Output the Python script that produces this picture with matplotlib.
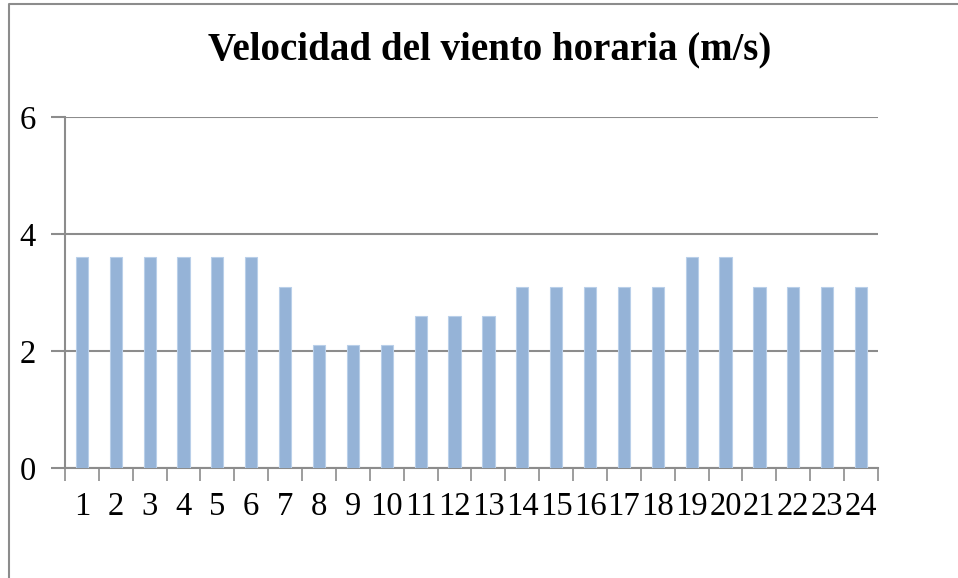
import numpy as np
import matplotlib.pyplot as plt
from matplotlib.lines import Line2D

# hourly wind speed (m/s)
horas = [str(h) for h in range(1, 25)]
velocidad = [3.6, 3.6, 3.6, 3.6, 3.6, 3.6, 3.1, 2.1, 2.1, 2.1, 2.6, 2.6,
             2.6, 3.1, 3.1, 3.1, 3.1, 3.1, 3.6, 3.6, 3.1, 3.1, 3.1, 3.1]

plt.rcParams['font.family'] = ['Liberation Serif', 'DejaVu Serif']

fig = plt.figure(figsize=(9.58, 5.78), dpi=100)
ax = fig.add_axes([0.0678, 0.1903, 0.8487, 0.6073])

x = np.arange(len(horas))
ax.bar(x, velocidad, width=0.36, color='#95b3d7', edgecolor='#b9cfe9',
       linewidth=0.8, zorder=3)

ax.set_xlim(-0.5, len(horas) - 0.5)
ax.set_ylim(0, 6)
ax.set_yticks([0, 2, 4, 6])
ax.yaxis.grid(True, color='#8c8c8c', linewidth=1.5, zorder=0)

# category labels centred, tick marks on the boundaries
ax.set_xticks(x)
ax.set_xticklabels(horas)
ax.set_xticks(np.arange(-0.5, len(horas)), minor=True)
ax.tick_params(axis='x', which='major', length=0, pad=17, labelsize=23.5)
ax.tick_params(axis='x', which='minor', length=9, width=1.2, color='#8c8c8c',
               direction='out')
ax.tick_params(axis='y', length=10, width=1.5, color='#8c8c8c', pad=11,
               labelsize=23.5)

for s in ['top', 'right']:
    ax.spines[s].set_visible(False)
for s in ['left', 'bottom']:
    ax.spines[s].set_color('#8c8c8c')
    ax.spines[s].set_linewidth(1.5)

fig.text(0.511, 0.913, 'Velocidad del viento horaria (m/s)', ha='center',
         va='center', fontsize=28, fontweight='bold')

# chart area frame (left and top edges)
fig.add_artist(Line2D([9 / 958, 9 / 958, 1.0], [0.0, 1 - 4 / 578, 1 - 4 / 578],
                      transform=fig.transFigure, color='#8c8c8c', linewidth=1.5))

plt.savefig('out.png', dpi=100)
plt.close(fig)
